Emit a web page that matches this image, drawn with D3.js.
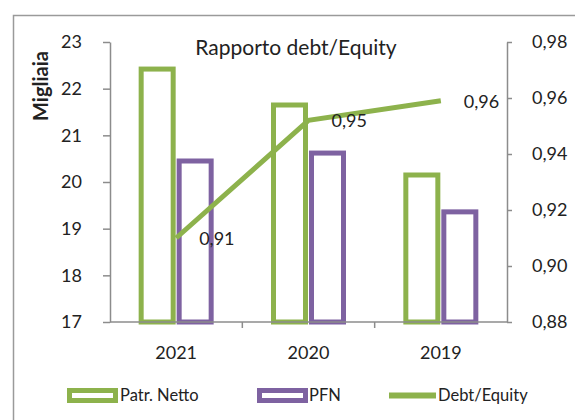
<!DOCTYPE html>
<html>
<head>
<meta charset="utf-8">
<script src="https://cdn.jsdelivr.net/npm/d3@7"></script>
<style>
  body { margin: 0; background: #fff; }
  svg { display: block; font-family: Lato, "Open Sans", sans-serif; }
</style>
</head>
<body>
<div id="chart"></div>
<script>
const categories = ['2021', '2020', '2019']
const patrNetto = [22.42, 21.65, 20.15]
const pfn = [20.45, 20.62, 19.36]
const debtEquity = [0.910, 0.952, 0.959]
const debtLabels = ['0,91', '0,95', '0,96']
const leftTicks = [17, 18, 19, 20, 21, 22, 23]
const rightTicks = [0.88, 0.90, 0.92, 0.94, 0.96, 0.98]
const seriesNames = ['Patr. Netto', 'PFN', 'Debt/Equity']

const width = 575
const height = 420
const green = '#8db24c'
const purple = '#7e62a1'
const axisColor = '#8c8c8c'
const textColor = '#222'

const svg = d3.select('#chart')
  .append('svg')
  .attr('width', width)
  .attr('height', height)

// outer chart border (cut by the window on right and bottom)
svg.append('rect')
  .attr('x', 13.5).attr('y', 15.5)
  .attr('width', 620).attr('height', 440)
  .attr('fill', 'none')
  .attr('stroke', '#9a9a9a')
  .attr('stroke-width', 1.5)

const x = d3.scaleBand().domain(categories).range([110, 507])
const y = d3.scaleLinear().domain([17, 23]).range([322, 42])
const y2 = d3.scaleLinear().domain([0.88, 0.98]).range([322, 42])
const xSub = d3.scaleBand().domain(['patr', 'pfn']).range([-37, 37])

const fmt = d => d3.format('.2f')(d).replace('.', ',')

// left axis
const gl = svg.append('g')
  .attr('transform', 'translate(110,0)')
  .call(d3.axisLeft(y).tickValues(leftTicks).tickFormat(d3.format('d'))
    .tickSizeInner(7).tickSizeOuter(0).tickPadding(21))
gl.selectAll('.tick text').attr('font-size', 18).attr('fill', textColor).attr('font-family', 'Lato, sans-serif')

// right axis
const gr = svg.append('g')
  .attr('transform', 'translate(507,0)')
  .call(d3.axisRight(y2).tickValues(rightTicks).tickFormat(fmt).tickSizeInner(5).tickSizeOuter(0).tickPadding(20))
gr.selectAll('.tick text').attr('font-size', 18).attr('fill', textColor).attr('font-family', 'Lato, sans-serif')

svg.selectAll('.domain, .tick line').attr('stroke', axisColor).attr('stroke-width', 1.5)

// bars
const rows = categories.map((c, i) => ({ c, patr: patrNetto[i], pfn: pfn[i] }))
const groups = svg.selectAll('.grp')
  .data(rows)
  .enter().append('g')
  .attr('class', 'grp')
  .attr('transform', d => `translate(${x(d.c) + x.bandwidth() / 2},0)`)

groups.selectAll('rect')
  .data(d => [{ key: 'patr', v: d.patr, col: green }, { key: 'pfn', v: d.pfn, col: purple }])
  .enter().append('rect')
  .attr('x', d => xSub(d.key) + 2.5 + (d.key === 'pfn' ? 0.5 : -0.5))
  .attr('width', xSub.bandwidth() - 5)
  .attr('y', d => y(d.v))
  .attr('height', d => y(17) - y(d.v))
  .attr('fill', 'none')
  .attr('stroke', d => d.col)
  .attr('stroke-width', 5)

// x axis line and boundary ticks
svg.append('line')
  .attr('x1', 110).attr('x2', 507)
  .attr('y1', 322).attr('y2', 322)
  .attr('stroke', axisColor).attr('stroke-width', 1.5)
svg.selectAll('.xtick')
  .data(categories.slice(1))
  .enter().append('line')
  .attr('x1', d => x(d)).attr('x2', d => x(d))
  .attr('y1', 322).attr('y2', 328)
  .attr('stroke', axisColor).attr('stroke-width', 1.5)

svg.selectAll('.xlabel')
  .data(categories)
  .enter().append('text')
  .attr('x', d => x(d) + x.bandwidth() / 2)
  .attr('y', 359)
  .attr('text-anchor', 'middle')
  .attr('font-size', 18)
  .attr('fill', textColor)
  .text(d => d)

// debt/equity line
const pts = categories.map((c, i) => ({ c, v: debtEquity[i], label: debtLabels[i] }))
const line = d3.line()
  .x(d => x(d.c) + x.bandwidth() / 2)
  .y(d => y2(d.v))

svg.append('path')
  .datum(pts)
  .attr('d', line)
  .attr('fill', 'none')
  .attr('stroke', green)
  .attr('stroke-width', 5)

svg.selectAll('.dlabel')
  .data(pts)
  .enter().append('text')
  .attr('x', d => x(d.c) + x.bandwidth() / 2 + 23)
  .attr('y', d => y2(d.v) + 7)
  .attr('font-size', 18)
  .attr('fill', textColor)
  .text(d => d.label)

// title and axis title
svg.append('text')
  .attr('x', 296).attr('y', 55)
  .attr('text-anchor', 'middle')
  .attr('font-size', 21)
  .attr('fill', textColor)
  .text('Rapporto debt/Equity')

svg.append('text')
  .attr('transform', 'translate(48,86) rotate(-90)')
  .attr('text-anchor', 'middle')
  .attr('font-size', 20)
  .attr('font-weight', 'bold')
  .attr('fill', textColor)
  .text('Migliaia')

// legend
const legend = svg.append('g')
legend.append('rect')
  .attr('x', 69.5).attr('y', 390.5).attr('width', 46).attr('height', 10)
  .attr('fill', 'none').attr('stroke', green).attr('stroke-width', 5)
legend.append('rect')
  .attr('x', 259.5).attr('y', 390.5).attr('width', 46).attr('height', 10)
  .attr('fill', 'none').attr('stroke', purple).attr('stroke-width', 5)
legend.append('line')
  .attr('x1', 389).attr('x2', 436).attr('y1', 395.5).attr('y2', 395.5)
  .attr('stroke', green).attr('stroke-width', 6)

legend.selectAll('text')
  .data(seriesNames)
  .enter().append('text')
  .attr('x', (_, i) => [120, 309, 438][i])
  .attr('y', 401)
  .attr('font-size', 16.5)
  .attr('fill', textColor)
  .text(d => d)
</script>
</body>
</html>
